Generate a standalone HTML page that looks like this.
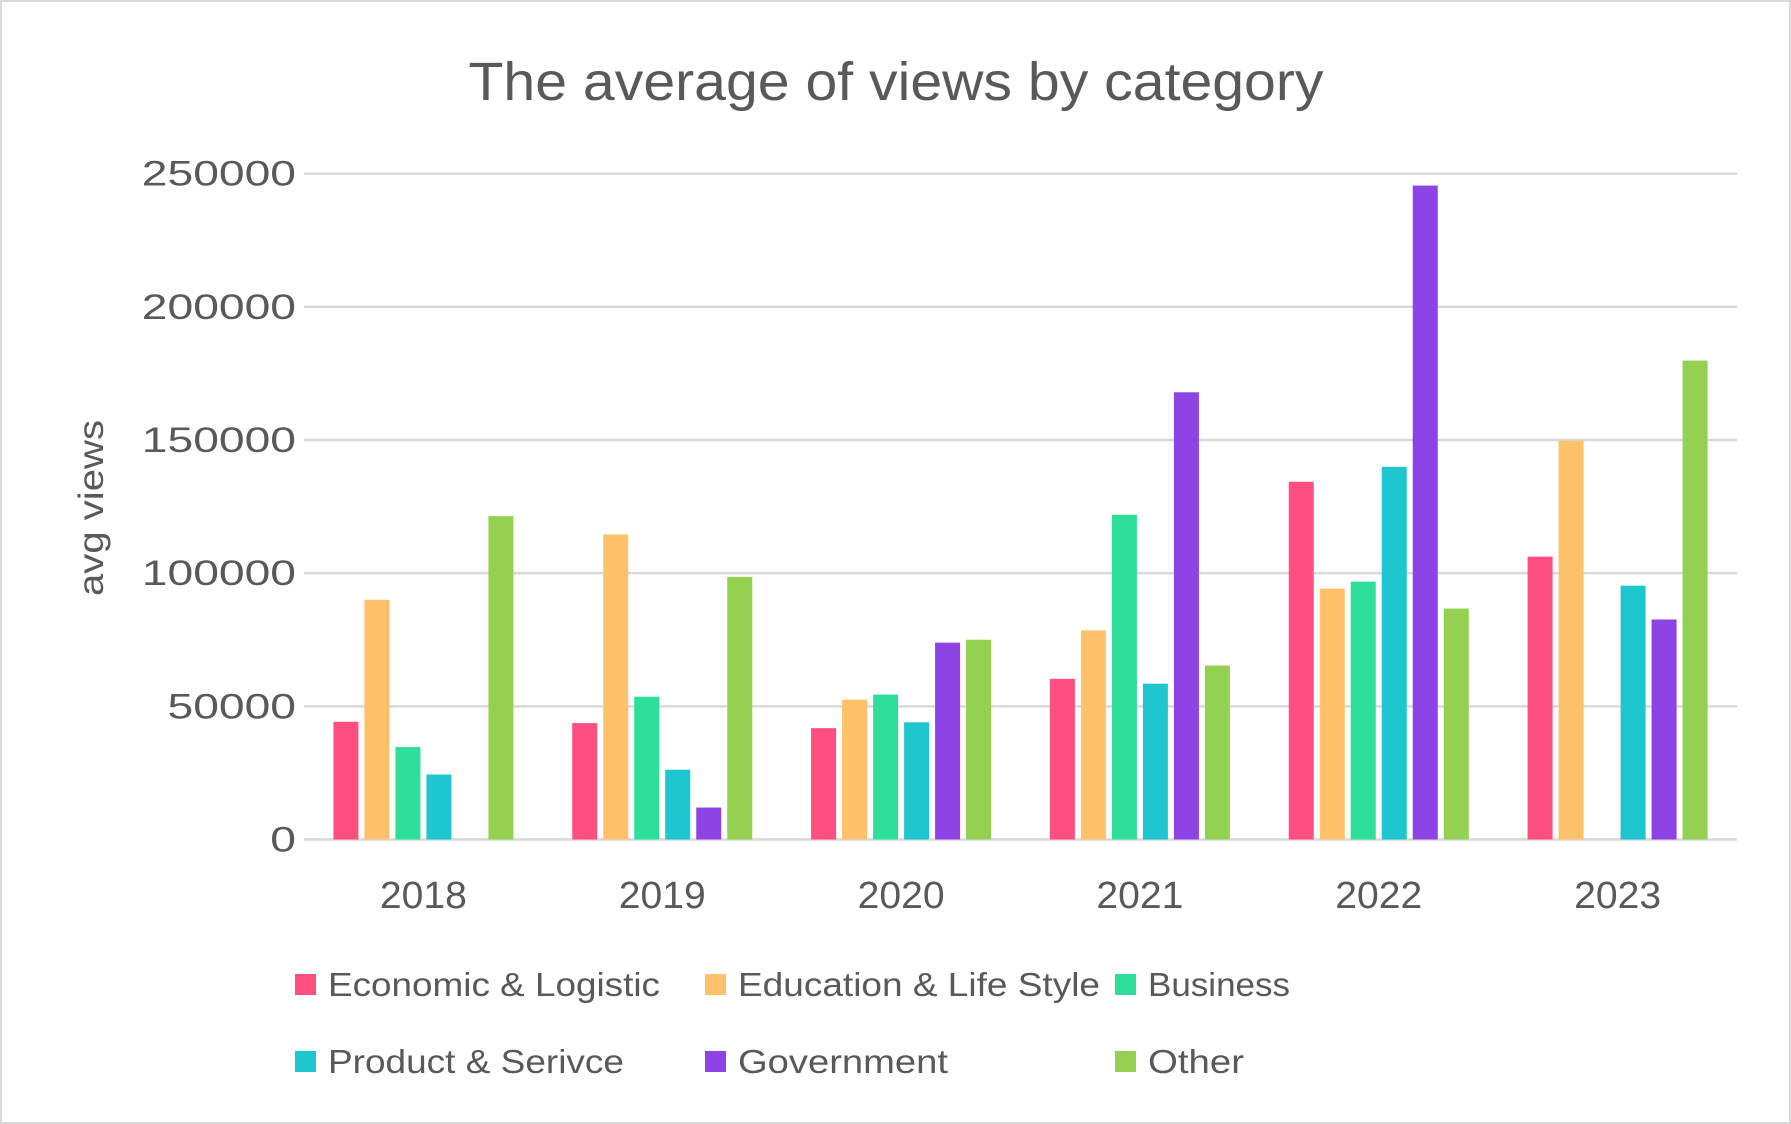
<!DOCTYPE html>
<html><head><meta charset="utf-8"><style>
html,body{margin:0;padding:0;background:#fff}
svg{display:block}
text{font-family:"Liberation Sans",sans-serif;fill:#595959}
</style></head><body>
<svg id="chart" width="1791" height="1124" xmlns="http://www.w3.org/2000/svg">
<rect x="1" y="1" width="1789" height="1122" fill="#fff" stroke="#d9d9d9" stroke-width="2"/>
<text x="896" y="100" font-size="54" text-anchor="middle" textLength="855" lengthAdjust="spacingAndGlyphs">The average of views by category</text>
<text transform="translate(103,508) rotate(-90)" font-size="35" text-anchor="middle" textLength="176" lengthAdjust="spacingAndGlyphs">avg views</text>
<g id="grid"></g><g id="bars"></g><g id="labels"></g><g id="legend"></g>
</svg>
<script>
const years=["2018","2019","2020","2021","2022","2023"];
const seriesNames=["Economic & Logistic","Education & Life Style","Business","Product & Serivce","Government","Other"];
const econ=[44200,43700,41800,60300,134300,106200];
const edu=[90000,114500,52500,78500,94200,149700];
const business=[34700,53600,54400,121900,96800,0];
const product=[24400,26200,44000,58500,139900,95300];
const government=[0,12000,73900,167900,245500,82600];
const other=[121400,98600,75000,65300,86700,179800];
const yTicks=[0,50000,100000,150000,200000,250000];
const colors=["#ff4f81","#ffc26a","#2ddf9a","#1ec6d0","#8e44e4","#94d150"];
const series=[econ,edu,business,product,government,other];
const NS="http://www.w3.org/2000/svg";
const X0=304,X1=1737,Y0=839.5,Y1=173.6,YMAX=250000;
const y=v=>Y0-(v/YMAX)*(Y0-Y1);
const gw=(X1-X0)/years.length, bw=25, pitch=31;
function el(t,a,p){const e=document.createElementNS(NS,t);for(const k in a)e.setAttribute(k,a[k]);p.appendChild(e);return e;}
const grid=document.getElementById('grid'),bars=document.getElementById('bars'),labels=document.getElementById('labels'),legend=document.getElementById('legend');
yTicks.forEach(t=>{
 const l=el('line',{x1:X0,x2:X1,y1:y(t),y2:y(t),stroke:'#d9d9d9','stroke-width':2.5},grid);
 
 
 const s=String(t);
 const tx=el('text',{x:296,y:y(t)+12,'font-size':35,'text-anchor':'end',textLength:s.length*25.7,lengthAdjust:'spacingAndGlyphs'},labels);
 tx.textContent=s;
 
 
});
years.forEach((yr,i)=>{
 const c=X0+gw*(i+0.5);
 const start=c-(pitch*5+bw)/2;
 series.forEach((s,j)=>{
  const v=s[i]; if(!v) return;
  const r=el('rect',{x:start+j*pitch,y:y(v),width:bw,height:Y0-y(v),fill:colors[j]},bars);
  
  
 });
 const t=el('text',{x:c,y:908,'font-size':38,'text-anchor':'middle',textLength:87,lengthAdjust:'spacingAndGlyphs'},labels);
 t.textContent=yr;
 
 
});
const lx=[295,705,1115], ly=[985,1062], lw=[332,362,142,296,210,96];
seriesNames.forEach((n,j)=>{
 const cx=lx[j%3], cy=ly[Math.floor(j/3)];
 const g=el('g',{},legend);
 
 
 el('rect',{x:cx,y:cy-11,width:21,height:21,fill:colors[j]},g);
 const t=el('text',{x:cx+33,y:cy+11,'font-size':33,textLength:lw[j],lengthAdjust:'spacingAndGlyphs'},g);
 t.textContent=n;
});
</script>
</body></html>
